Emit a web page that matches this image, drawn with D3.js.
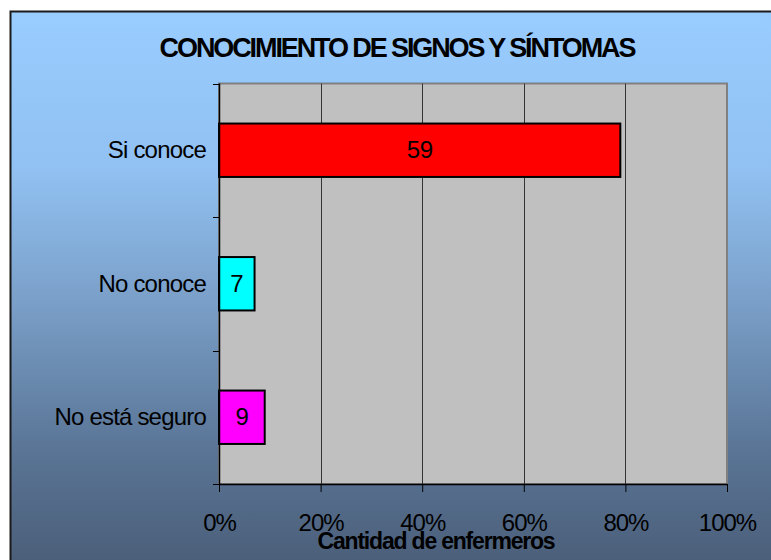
<!DOCTYPE html>
<html>
<head>
<meta charset="utf-8">
<script src="https://cdn.jsdelivr.net/npm/d3@7"></script>
<style>
  body { margin: 0; background: #fff; }
  svg { display: block; font-family: Arial, "Liberation Sans", sans-serif; }
</style>
</head>
<body>
<div id="chart"></div>
<script>
// data
var categories = ["Si conoce", "No conoce", "No está seguro"];
var counts = [59, 7, 9];          // labels printed on the bars
var shares = [79, 7, 9];          // bar length in % of the axis
var colors = ["#ff0000", "#00ffff", "#ff00ff"];
var xTicks = [0, 20, 40, 60, 80, 100];

var width = 771, height = 560;
var plot = {left: 219, right: 727, top: 83.5, bottom: 484};

var svg = d3.select("#chart").append("svg")
    .attr("width", width).attr("height", height);

var defs = svg.append("defs");
var grad = defs.append("linearGradient").attr("id", "bg")
    .attr("x1", 0).attr("y1", 0).attr("x2", 0).attr("y2", 1);
grad.append("stop").attr("offset", "0%").attr("stop-color", "#99ccff");
grad.append("stop").attr("offset", "28%").attr("stop-color", "#91c1f2");
grad.append("stop").attr("offset", "52%").attr("stop-color", "#7a9fc8");
grad.append("stop").attr("offset", "78%").attr("stop-color", "#5a7596");
grad.append("stop").attr("offset", "100%").attr("stop-color", "#4a5d77");

// chart frame
svg.append("rect")
    .attr("x", 10.5).attr("y", 11.5)
    .attr("width", 800).attr("height", 560)
    .attr("fill", "url(#bg)")
    .attr("stroke", "#1a1a1a").attr("stroke-width", 2);

var x = d3.scaleLinear().domain([0, 100]).range([plot.left, plot.right]);
var y = d3.scaleBand().domain(categories)
    .range([plot.top, plot.bottom])
    .paddingInner(0.6).paddingOuter(0.3);

// plot area
svg.append("rect")
    .attr("x", plot.left).attr("y", plot.top)
    .attr("width", plot.right - plot.left).attr("height", plot.bottom - plot.top)
    .attr("fill", "#c0c0c0")
    .attr("stroke", "#808080").attr("stroke-width", 2);

// gridlines
svg.append("g").selectAll("line")
    .data(xTicks.slice(1, -1)).enter().append("line")
    .attr("x1", function(d) { return Math.round(x(d)) + 0.5; })
    .attr("x2", function(d) { return Math.round(x(d)) + 0.5; })
    .attr("y1", plot.top).attr("y2", plot.bottom)
    .attr("stroke", "#333").attr("stroke-width", 1);

// bars
svg.append("g").selectAll("rect")
    .data(categories).enter().append("rect")
    .attr("x", x(0))
    .attr("y", function(d) { return y(d); })
    .attr("width", function(d, i) { return x(shares[i]) - x(0); })
    .attr("height", y.bandwidth())
    .attr("fill", function(d, i) { return colors[i]; })
    .attr("stroke", "#000").attr("stroke-width", 2);

// bar labels
svg.append("g").selectAll("text")
    .data(categories).enter().append("text")
    .attr("x", function(d, i) { return (x(0) + x(shares[i])) / 2; })
    .attr("y", function(d) { return y(d) + y.bandwidth() / 2 + 8; })
    .attr("text-anchor", "middle")
    .style("font-size", "24px").style("letter-spacing", "-0.5px")
    .text(function(d, i) { return counts[i]; });

// y axis (category boundaries as ticks)
var yBounds = d3.range(categories.length + 1).map(function(i) {
  return plot.top + i * y.step();
});
svg.append("line")
    .attr("x1", plot.left + 0.5).attr("x2", plot.left + 0.5)
    .attr("y1", plot.top).attr("y2", plot.bottom)
    .attr("stroke", "#000").attr("stroke-width", 1.5);
svg.append("g").selectAll("line")
    .data(yBounds).enter().append("line")
    .attr("x1", plot.left - 6).attr("x2", plot.left)
    .attr("y1", function(d) { return Math.round(d) + 0.5; })
    .attr("y2", function(d) { return Math.round(d) + 0.5; })
    .attr("stroke", "#000");
svg.append("g").selectAll("text")
    .data(categories).enter().append("text")
    .attr("x", 206)
    .attr("y", function(d) { return y(d) + y.bandwidth() / 2 + 8; })
    .attr("text-anchor", "end")
    .style("font-size", "24px").style("letter-spacing", "-0.8px")
    .text(function(d) { return d; });

// x axis
var xAxis = svg.append("g")
    .attr("transform", "translate(0," + plot.bottom + ")")
    .call(d3.axisBottom(x).tickValues(xTicks).tickSize(8).tickSizeOuter(0)
      .tickFormat(function(d) { return d + "%"; }));
xAxis.select(".domain").attr("stroke", "#000").attr("stroke-width", 1.5);
xAxis.selectAll(".tick line").attr("stroke", "#000");
xAxis.selectAll(".tick text")
    .attr("y", 47).attr("dy", null).attr("fill", "#000")
    .style("font-family", "Arial, 'Liberation Sans', sans-serif")
    .style("font-size", "24px").style("letter-spacing", "-1px");

// titles
svg.append("text")
    .attr("x", 397).attr("y", 57)
    .attr("text-anchor", "middle")
    .style("font-size", "27px").style("font-weight", "bold").style("letter-spacing", "-2.1px")
    .text("CONOCIMIENTO DE SIGNOS Y SÍNTOMAS");

svg.append("text")
    .attr("x", 436).attr("y", 549)
    .attr("text-anchor", "middle")
    .style("font-size", "23px").style("font-weight", "bold").style("letter-spacing", "-1.2px")
    .text("Cantidad de enfermeros");
</script>
</body>
</html>
